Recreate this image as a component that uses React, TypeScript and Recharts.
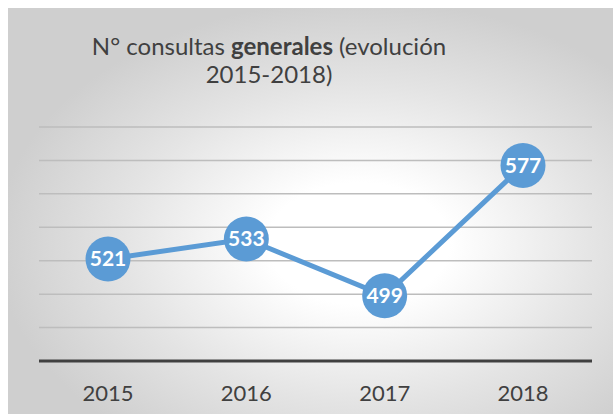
import React from "react";
import { LineChart, Line, XAxis, YAxis, CartesianGrid, LabelList } from "recharts";

const years = ["2015", "2016", "2017", "2018"];
const consultas = [521, 533, 499, 577];
const yTicks = [460, 480, 500, 520, 540, 560, 580, 600];

const data = years.map((y, i) => ({ year: y, value: consultas[i] }));

const BLUE = "#5B9BD5";
const FONT = "Lato, 'Open Sans', sans-serif";

const Dot = (props: any) => {
  const { cx, cy } = props;
  if (cx == null || cy == null) return null;
  return <circle cx={cx} cy={cy} r={22.5} fill={BLUE} stroke="none" />;
};

const titleStyle: React.CSSProperties = {
  position: "absolute",
  left: 0,
  width: 538,
  textAlign: "center",
  fontFamily: FONT,
  fontSize: 24,
  lineHeight: "24px",
  color: "#404040",
  whiteSpace: "nowrap",
};

export default function App() {
  return (
    <div style={{ position: "fixed", left: 0, top: 0, width: 613, height: 414, background: "#fff", overflow: "hidden" }}>
      <div
        style={{
          position: "absolute",
          left: 8,
          top: 8,
          width: 605,
          height: 406,
          background: "radial-gradient(ellipse 60% 60% at 58% 58%, #ffffff 0%, #ffffff 25%, #e4e4e4 65%, #cfcfcf 100%)",
        }}
      />
      <div style={{ ...titleStyle, top: 34 }}>
        N° consultas <b>generales</b> (evolución
      </div>
      <div style={{ ...titleStyle, top: 61.5 }}>2015-2018)</div>
      <div style={{ position: "absolute", left: 0, top: 0 }}>
        <LineChart width={613} height={414} data={data} margin={{ top: 127, right: 21, bottom: 0, left: 39 }}>
          <CartesianGrid vertical={false} stroke="#bdbdbd" strokeWidth={1.5} />
          <YAxis hide domain={[460, 600]} ticks={yTicks} type="number" allowDataOverflow />
          <XAxis
            dataKey="year"
            height={53}
            padding={{ left: 69, right: 69 }}
            axisLine={{ stroke: "#404040", strokeWidth: 3 }}
            tickLine={false}
            tickMargin={18}
            tick={{ fill: "#404040", fontSize: 22, fontFamily: FONT }}
          />
          <Line
            dataKey="value"
            stroke={BLUE}
            strokeWidth={5}
            dot={<Dot />}
            activeDot={false}
            isAnimationActive={false}
          >
            <LabelList
              dataKey="value"
              position="center"
              fill="#ffffff"
              fontSize={21}
              fontWeight="bold"
              fontFamily={FONT}
            />
          </Line>
        </LineChart>
      </div>
    </div>
  );
}
